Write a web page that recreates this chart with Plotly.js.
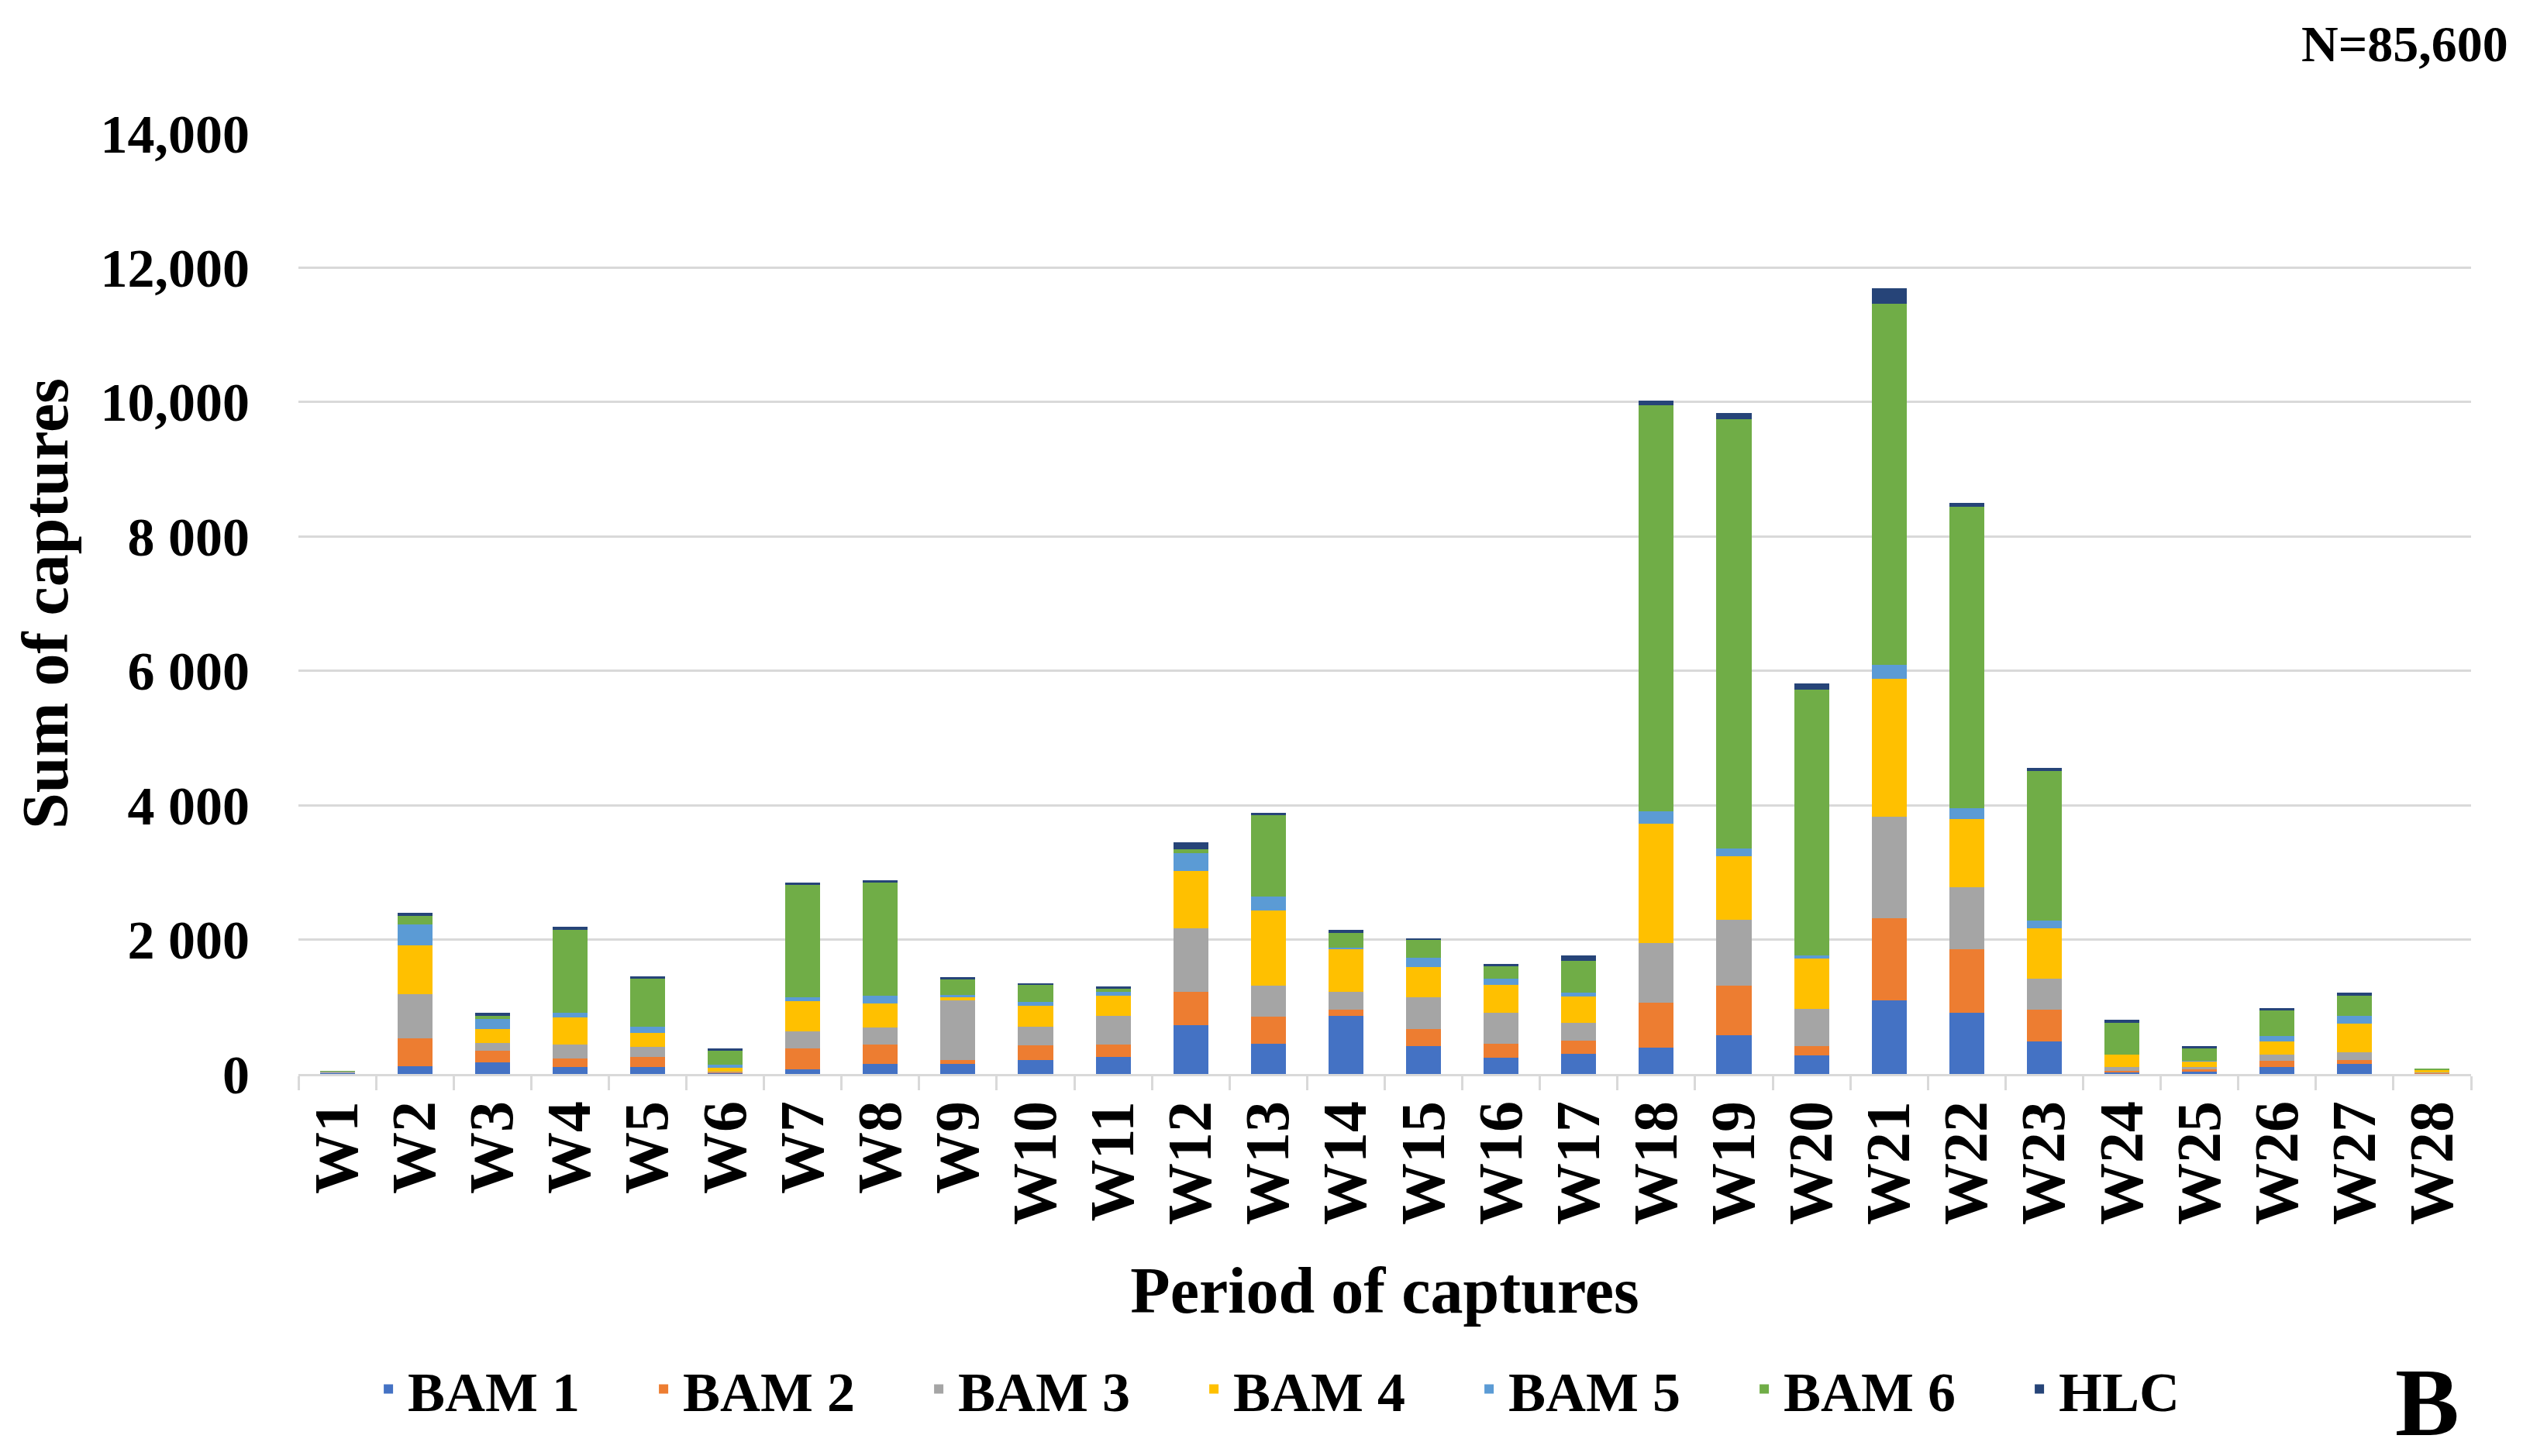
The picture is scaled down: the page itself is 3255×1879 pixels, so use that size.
<!DOCTYPE html>
<html>
<head>
<meta charset="utf-8">
<script src="https://cdn.plot.ly/plotly-3.0.1.min.js"></script>
<style>html,body{margin:0;padding:0;background:#fff}#chart{width:3255px;height:1879px}</style>
</head>
<body>
<div id="chart"></div>
<script>
const weeks = ["W1","W2","W3","W4","W5","W6","W7","W8","W9","W10","W11","W12","W13","W14","W15","W16","W17","W18","W19","W20","W21","W22","W23","W24","W25","W26","W27","W28"];
const bam1 = [10,115,172,103,103,10,70,153,153,203,249,729,455,865,410,247,304,390,574,278,1093,907,481,20,30,103,153,5];
const bam2 = [5,410,173,127,154,15,313,288,60,218,192,493,399,91,254,208,189,675,741,139,1222,945,473,30,40,89,58,5];
const bam3 = [20,663,115,211,145,15,249,249,880,288,421,941,455,266,475,456,266,880,981,555,1509,926,463,50,30,95,115,10];
const bam4 = [5,728,210,402,211,50,452,364,46,306,307,854,1120,638,455,410,398,1778,944,741,2056,1018,750,184,90,192,429,40];
const bam5 = [0,306,154,65,96,46,54,115,38,58,57,273,209,19,133,102,57,185,112,46,213,158,120,10,5,84,107,0];
const bam6 = [5,134,46,1238,709,214,1678,1678,230,249,38,50,1214,216,265,178,475,6046,6398,3963,5370,4490,2222,470,180,383,307,20];
const hlc  = [0,39,38,49,38,27,31,38,31,30,39,106,38,49,27,31,76,65,83,93,231,56,47,39,38,39,46,0];
const seriesNames = ["BAM 1","BAM 2","BAM 3","BAM 4","BAM 5","BAM 6","HLC"];
const seriesColors = ["#4472C4","#ED7D31","#A5A5A5","#FFC000","#5B9BD5","#70AD47","#264478"];
const yTickVals = [0,2000,4000,6000,8000,10000,12000,14000];
const yTickText = ["0","2 000","4 000","6 000","8 000","10,000","12,000","14,000"];

const seriesData = [bam1,bam2,bam3,bam4,bam5,bam6,hlc];
const FONT = "Liberation Serif, Times New Roman, serif";
const traces = seriesData.map((vals,i)=>({
  type:"bar", name:seriesNames[i], x:weeks, y:vals,
  marker:{color:seriesColors[i], line:{width:0}}
}));

const layout = {
  width:3255, height:1879,
  margin:{l:385, r:67, t:172, b:493},
  paper_bgcolor:"#fff", plot_bgcolor:"#fff",
  barmode:"stack", bargap:0.55,
  font:{family:FONT, color:"#000", size:64, weight:700},
  showlegend:true,
  legend:{orientation:"h", x:0.0325, xanchor:"left", y:-0.291, yanchor:"top",
    font:{family:FONT, size:72, weight:700, color:"#000"},
    entrywidth:300, entrywidthmode:"pixels", itemwidth:40, traceorder:"normal"},
  xaxis:{type:"category", tickangle:-90, tickson:"boundaries", ticks:"outside", ticklen:18,
    tickcolor:"#D9D9D9", tickwidth:3, showline:true, linecolor:"#D9D9D9", linewidth:3,
    showgrid:false, tickfont:{family:FONT, size:80, weight:700, color:"#000"},
    title:{text:"Period of captures", font:{family:FONT, size:84, weight:700, color:"#000"}, standoff:56},
    automargin:false},
  yaxis:{range:[0,14000], tickvals:yTickVals, ticktext:yTickText, showgrid:true,
    gridcolor:"#D9D9D9", gridwidth:3, zeroline:false, showline:false, ticks:"",
    ticklabelstandoff:62,
    tickfont:{family:FONT, size:70, weight:700, color:"#000"},
    title:{text:"Sum of captures", font:{family:FONT, size:84, weight:700, color:"#000"}, standoff:14},
    automargin:false},
  annotations:[
    {text:"N=85,600", xref:"paper", yref:"paper", x:1.018, y:1.095, xanchor:"right", yanchor:"middle",
     showarrow:false, font:{family:FONT, size:66, weight:700, color:"#000"}},
    {text:"B", xref:"paper", yref:"paper", x:0.9955, y:-0.35, xanchor:"right", yanchor:"middle",
     showarrow:false, font:{family:FONT, size:124, weight:700, color:"#000"}}
  ]
};
Plotly.newPlot("chart", traces, layout, {staticPlot:true, displayModeBar:false});
</script>
</body>
</html>
